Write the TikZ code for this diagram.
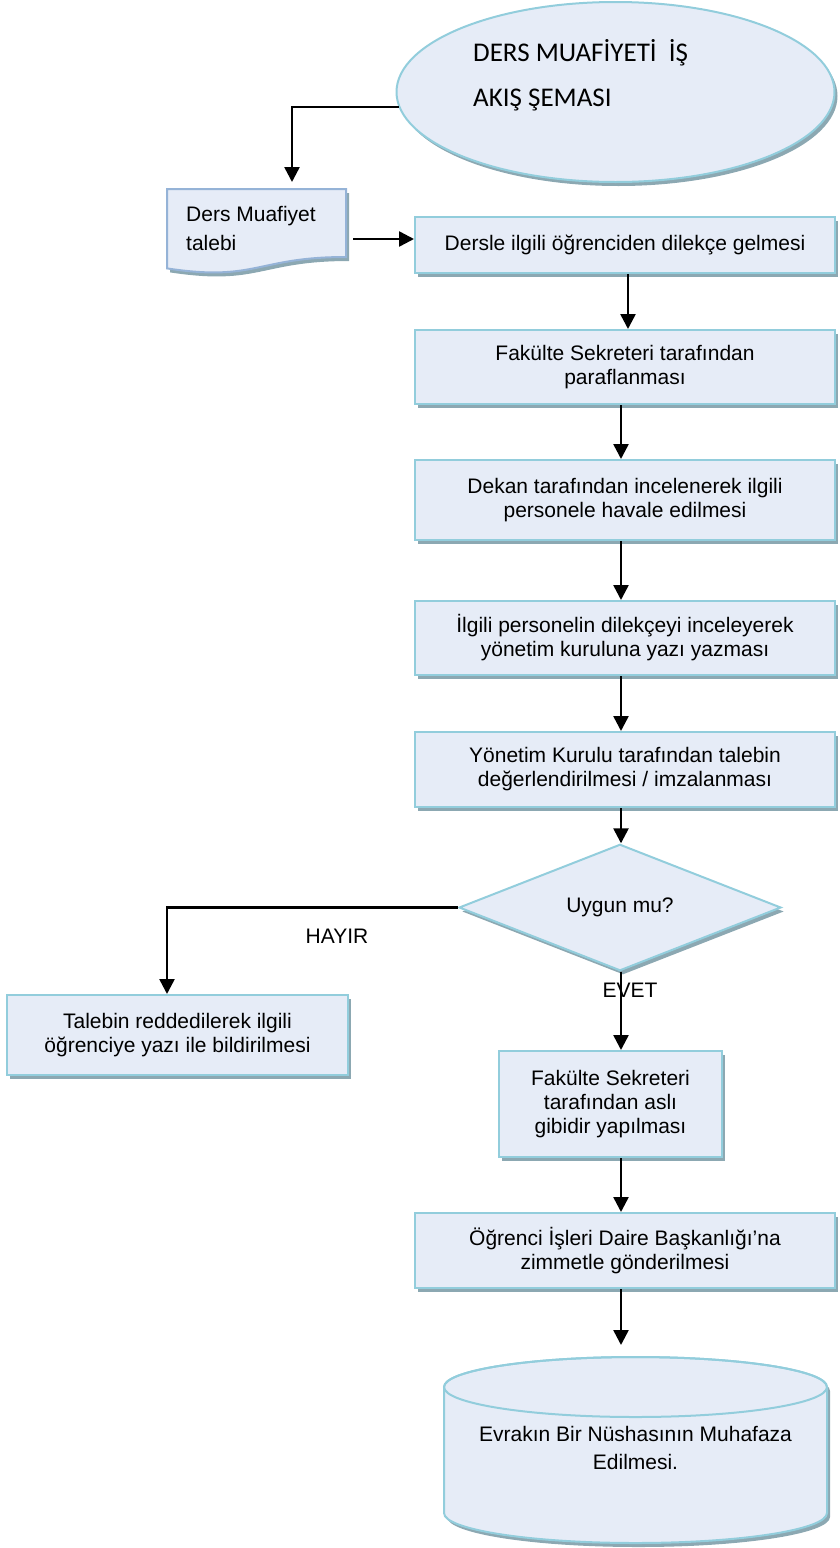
\documentclass[tikz,border=0pt]{standalone}
\usepackage{fontspec}
\setmainfont{Liberation Sans}
\newfontfamily\titlefont{Carlito}
\usetikzlibrary{shapes.geometric,arrows.meta,shadows}
\definecolor{boxfill}{RGB}{230,236,247}
\definecolor{boxline}{RGB}{146,205,220}
\definecolor{boxshadow}{RGB}{140,168,178}
\definecolor{docline}{RGB}{149,179,215}
\begin{document}
\begin{tikzpicture}[x=1pt,y=-1pt,
  shad/.style={drop shadow={shadow xshift=3pt,shadow yshift=-4pt,fill=boxshadow,opacity=1}},
  shapestyle/.style={draw=boxline,line width=2pt,fill=boxfill,shad},
  box/.style={rectangle,shapestyle,align=center,inner sep=0pt,
    font=\fontsize{21}{24}\selectfont},
  lbl/.style={font=\fontsize{21}{24}\selectfont,inner sep=0pt},
  arr/.style={line width=2.5pt,-{Triangle[length=15pt,width=15pt]}}]
\useasboundingbox (0,0) rectangle (839,1548);

% title ellipse
\node[ellipse,shapestyle,minimum width=438pt,minimum height=180pt,inner sep=0pt] (title) at (615.5,92) {};
\node[anchor=west,align=left,inner sep=0pt,font=\titlefont\fontsize{27}{45}\selectfont] (titletxt) at (473,75.5)
  {DERS MUAFİYETİ\ \ İŞ\\AKIŞ ŞEMASI};

% document shape
\path[draw=docline,line width=2pt,fill=boxfill,shad]
  (167,189) -- (346,189) -- (346,257) .. controls (256.5,257) and (256.5,282) .. (167,268.4) -- cycle;
\node[anchor=west,align=left,inner sep=0pt,font=\fontsize{21}{29}\selectfont] (doc) at (186,228)
  {Ders Muafiyet\\talebi};
\coordinate (doctop) at (292,182);
\coordinate (docout) at (353,239);

% process boxes
\node[box,minimum width=420pt,minimum height=56pt] (box1) at (625,245)
  {Dersle ilgili öğrenciden dilekçe gelmesi};
\node[box,minimum width=420pt,minimum height=74pt] (box2) at (625,367)
  {Fakülte Sekreteri tarafından\\paraflanması};
\node[box,minimum width=420pt,minimum height=80pt] (box3) at (625,500)
  {Dekan tarafından incelenerek ilgili\\personele havale edilmesi};
\node[box,minimum width=420pt,minimum height=74pt] (box4) at (625,638)
  {İlgili personelin dilekçeyi inceleyerek\\yönetim kuruluna yazı yazması};
\node[box,minimum width=420pt,minimum height=75pt] (box5) at (625,769.5)
  {Yönetim Kurulu tarafından talebin\\değerlendirilmesi / imzalanması};
\node[diamond,shapestyle,minimum width=322pt,minimum height=87pt,inner sep=0pt,
  font=\fontsize{21}{24}\selectfont] (dia) at (620,907.5) {Uygun mu?};
\node[box,minimum width=341pt,minimum height=80pt] (rej) at (177.5,1035)
  {Talebin reddedilerek ilgili\\öğrenciye yazı ile bildirilmesi};
\node[box,minimum width=223pt,minimum height=106pt] (box6) at (610.5,1104)
  {Fakülte Sekreteri\\tarafından aslı\\gibidir yapılması};
\node[box,minimum width=420pt,minimum height=75pt] (box7) at (625,1250.5)
  {Öğrenci İşleri Daire Başkanlığı’na\\zimmetle gönderilmesi};

% cylinder
\path[draw=boxline,line width=2pt,fill=boxfill,shad]
  (444,1387) -- (444,1513) arc[start angle=180,end angle=360,x radius=191.5pt,y radius=30pt]
  -- (827,1387) arc[start angle=0,end angle=180,x radius=191.5pt,y radius=30pt] -- cycle;
\draw[boxline,line width=2pt] (635.5,1387) ellipse[x radius=191.5pt,y radius=30pt];
\node[align=center,inner sep=0pt,font=\fontsize{21}{28}\selectfont] (cyl) at (635.5,1447.5)
  {Evrakın Bir Nüshasının Muhafaza\\Edilmesi.};

% connectors
\coordinate (col1) at (628,0);
\coordinate (col) at (621,0);
\coordinate (rejin) at (167,0);
\coordinate (cyltop) at (621,1345);
\draw[arr] (title.184) -| (doctop);
\draw[arr] (docout) -- (docout -| box1.west);
\draw[arr] (box1.south -| col1) -- (box2.north -| col1);
\draw[arr] (box2.south -| col) -- (box3.north -| col);
\draw[arr] (box3.south -| col) -- (box4.north -| col);
\draw[arr] (box4.south -| col) -- (box5.north -| col);
\draw[arr] (box5.south -| col) -- (dia.north -| col);
\draw[arr] (dia.west) -| (rej.north -| rejin);
\draw[arr] (dia.south -| col) -- (box6.north -| col);
\draw[arr] (box6.south -| col) -- (box7.north -| col);
\draw[arr] (box7.south -| col) -- (cyltop);

% labels
\node[lbl] (hayir) at (337,936) {HAYIR};
\node[lbl] (evet) at (630,990) {EVET};
\end{tikzpicture}
\end{document}
